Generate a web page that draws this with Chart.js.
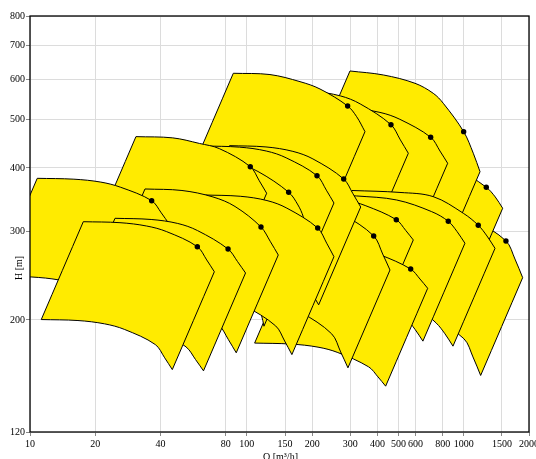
<!DOCTYPE html>
<html>
<head>
<meta charset="utf-8">
<script src="https://cdn.jsdelivr.net/npm/chart.js@4.4.1/dist/chart.umd.min.js"></script>
<style>
  html, body { margin: 0; padding: 0; background: #ffffff; }
  #wrap { width: 536px; height: 459px; }
</style>
</head>
<body>
<div id="wrap"><canvas id="c" width="536" height="459"></canvas></div>
<script>
// Axis ticks
const qTicks = [10, 20, 40, 80, 100, 150, 200, 300, 400, 500, 600, 800, 1000, 1500, 2000];
const hTicks = [120, 200, 300, 400, 500, 600, 700, 800];

// Operating ranges: [Q m3/h, H m] along the largest and the smallest impeller curve
const pump01Max = [[10.80,381.6],[15.94,380.1],[21.2,375.1],[26.2,366.3],[36.4,344.6],[40.3,326.0],[43.8,309.9]];
const pump01Min = [[6.91,244.2],[10.20,243.3],[13.57,240.1],[16.77,234.4],[23.30,220.5],[25.79,208.6],[28.03,198.3]];
const pump02Max = [[17.61,313.1],[26.0,311.7],[34.5,307.0],[42.7,299.2],[59.1,279.4],[65.3,263.0],[70.8,249.2]];
const pump02Min = [[11.27,200.4],[16.64,199.5],[22.08,196.5],[27.33,191.5],[37.82,178.8],[41.79,168.3],[45.31,159.5]];
const pump03Max = [[24.66,318.0],[36.2,316.3],[48.0,310.6],[59.2,300.7],[81.9,276.4],[90.6,261.0],[98.6,247.8]];
const pump03Min = [[15.78,203.5],[23.17,202.4],[30.72,198.8],[37.89,192.4],[52.42,176.9],[57.98,167.0],[63.10,158.6]];
const pump04Max = [[30.8,461.5],[45.5,458.9],[60.4,447.4],[74.7,436.9],[103.7,402.4],[114.1,377.3],[123.4,356.5]];
const pump04Min = [[19.71,295.4],[29.12,293.7],[38.66,286.3],[47.81,279.6],[66.37,257.5],[73.02,241.5],[78.98,228.2]];
const pump05Max = [[33.9,363.5],[50.2,361.0],[69.8,350.5],[88.2,335.6],[116.2,305.6],[128.5,285.7],[139.6,269.0]];
const pump05Min = [[21.70,232.6],[32.13,231.0],[44.67,224.3],[56.45,214.8],[74.37,195.6],[82.24,182.8],[89.34,172.2]];
const pump06Max = [[46.5,418.8],[68.5,416.1],[91.0,407.4],[112.5,393.7],[155.9,358.1],[172.1,337.9],[182.0,320.4],[187.3,303.8]];
const pump06Min = [[29.76,268.0],[43.84,266.3],[58.24,260.7],[72.0,252.0],[99.78,229.2],[110.1,216.3],[116.5,205.1],[119.9,194.4]];
const pump07Max = [[62.8,442.3],[92.5,439.9],[122.9,432.2],[151.8,419.0],[210.6,386.2],[232.6,361.5],[252.1,341.0]];
const pump07Min = [[40.19,283.1],[59.2,281.5],[78.66,276.6],[97.15,268.2],[134.8,247.2],[148.9,231.4],[161.3,218.2]];
const pump08Max = [[63.2,353.7],[93.2,351.6],[123.8,344.8],[152.9,333.1],[212.1,304.2],[233.4,283.9],[252.1,266.9]];
const pump08Min = [[40.45,226.4],[59.65,225.0],[79.23,220.7],[97.86,213.2],[135.7,194.7],[149.4,181.7],[161.3,170.8]];
const pump09Max = [[83.2,442.9],[122.5,440.3],[163.0,431.5],[201.6,416.9],[279.6,380.4],[308.6,355.6],[334.9,334.8]];
const pump09Min = [[53.25,283.5],[78.4,281.8],[104.3,276.2],[129.0,266.8],[178.9,243.5],[197.5,227.6],[214.3,214.3]];
const pump10Max = [[86.6,616.1],[127.8,612.5],[175.8,593.0],[217.4,573.5],[291.6,530.7],[320.9,505.4],[350.5,472.1]];
const pump10Min = [[55.42,394.3],[81.8,392.0],[112.5,379.5],[139.1,367.0],[186.6,339.6],[205.4,323.5],[224.3,302.1]];
const pump11Max = [[114.6,345.7],[168.8,343.5],[224.4,336.2],[277.2,323.8],[384.4,293.4],[423.0,270.2],[457.1,251.2]];
const pump11Min = [[73.3,221.2],[108.0,219.8],[143.6,215.2],[177.4,207.2],[246.0,187.8],[270.7,172.9],[292.5,160.8]];
const pump12Max = [[137.7,571.0],[202.9,567.3],[269.7,555.8],[333.1,535.8],[461.9,487.3],[510.4,454.6],[555.3,427.8]];
const pump12Min = [[88.1,365.4],[129.9,363.1],[172.6,355.7],[213.2,342.9],[295.6,311.9],[326.7,290.9],[355.4,273.8]];
const pump13Max = [[145.2,352.1],[213.9,350.5],[284.4,345.7],[351.2,337.1],[488.7,316.0],[540.1,300.9],[585.5,288.1]];
const pump13Min = [[92.9,225.3],[136.9,224.3],[182.0,221.2],[224.8,215.7],[312.8,202.2],[345.7,192.6],[374.7,184.4]];
const pump14Max = [[169.7,281.2],[250.1,280.0],[332.6,276.1],[410.6,269.3],[569.4,252.3],[628.5,241.1],[682.1,231.1]];
const pump14Min = [[108.6,180.0],[160.1,179.2],[212.9,176.7],[262.8,172.4],[364.4,161.5],[402.2,154.3],[436.5,147.9]];
const pump15Max = [[209.9,527.5],[309.3,524.6],[411.1,515.4],[507.7,499.4],[704.0,460.2],[777.2,432.2],[843.3,408.7]];
const pump15Min = [[134.3,337.6],[198.0,335.7],[263.1,329.9],[324.9,319.6],[450.6,294.5],[497.4,276.6],[539.7,261.6]];
const pump16Max = [[253.0,353.7],[320.9,352.1],[490.9,345.7],[711.5,327.8],[848.8,313.7],[930.9,299.5],[1013,283.8]];
const pump16Min = [[161.9,226.4],[205.4,225.3],[314.2,221.2],[455.4,209.8],[543.2,200.8],[595.8,191.7],[648.3,181.6]];
const pump17Max = [[298.9,622.6],[425.7,611.4],[596.0,588.6],[723.7,562.3],[804.9,537.3],[999.5,472.1],[1107,427.8],[1189,393.3]];
const pump17Min = [[191.3,398.5],[272.4,391.3],[381.4,376.7],[463.2,359.9],[515.1,343.9],[639.7,302.1],[708.5,273.8],[761.0,251.7]];
const pump18Max = [[305.3,361.0],[508.3,357.8],[723.7,351.0],[995.4,325.4],[1167,308.1],[1280,293.4],[1394,277.3]];
const pump18Min = [[195.4,231.0],[325.3,229.0],[463.2,224.6],[637.1,208.3],[746.9,197.2],[819.2,187.8],[892.2,177.5]];
const pump19Max = [[378.8,426.4],[558.1,423.9],[741.8,415.4],[916.2,401.3],[1271,366.3],[1398,350.5],[1512,332.9]];
const pump19Min = [[242.4,272.9],[357.2,271.3],[474.8,265.9],[586.4,256.8],[813.4,234.4],[894.7,224.3],[967.7,213.1]];
const pump20Max = [[466.9,334.8],[687.8,332.7],[914.3,326.1],[1129,314.7],[1566,286.8],[1723,264.1],[1870,242.6]];
const pump20Min = [[298.8,214.3],[440.2,212.9],[585.2,208.7],[722.6,201.4],[1002,183.6],[1103,169.0],[1197,155.3]];

// Best efficiency points
const bepQ = [36.4, 59.1, 81.9, 103.7, 116.2, 155.9, 210.6, 212.1, 279.6, 291.6, 384.4, 461.9, 488.7, 569.4, 704.0, 848.8, 999.5, 1167, 1271, 1566];
const bepH = [344.6, 279.4, 276.4, 402.4, 305.6, 358.1, 386.2, 304.2, 380.4, 530.7, 293.4, 487.3, 316.0, 252.3, 460.2, 313.7, 472.1, 308.1, 366.3, 286.8];

const ranges = [
  [pump01Max, pump01Min], [pump02Max, pump02Min], [pump03Max, pump03Min], [pump04Max, pump04Min],
  [pump05Max, pump05Min], [pump06Max, pump06Min], [pump07Max, pump07Min], [pump08Max, pump08Min],
  [pump09Max, pump09Min], [pump10Max, pump10Min], [pump11Max, pump11Min], [pump12Max, pump12Min],
  [pump13Max, pump13Min], [pump14Max, pump14Min], [pump15Max, pump15Min], [pump16Max, pump16Min],
  [pump17Max, pump17Min], [pump18Max, pump18Min], [pump19Max, pump19Min], [pump20Max, pump20Min]
];

// Stacking: the first entry lies on top of everything else
const stacking = [2, 3, 1, 5, 8, 4, 6, 7, 9, 10, 11, 14, 13, 16, 18, 12, 15, 17, 19, 20];

const FILL = '#ffeb00';
const FONT = { family: 'Liberation Serif', size: 10 };

const datasets = [];
ranges.forEach(([maxCurve, minCurve], i) => {
  const rank = stacking.indexOf(i + 1);
  const last = maxCurve.length - 1;
  // Closed outline: largest impeller curve, right edge, smallest impeller curve
  // back to the left, left edge. Corner vertices are doubled so the spline keeps
  // them sharp while the impeller curves stay smooth.
  const outline = [maxCurve[0], ...maxCurve, maxCurve[last],
                   minCurve[last], ...minCurve.slice().reverse(), minCurve[0], maxCurve[0]]
    .map(([q, h]) => ({ x: q, y: h }));
  datasets.push({
    data: outline,
    fill: 'shape',
    backgroundColor: FILL,
    borderColor: '#000000',
    borderWidth: 1,
    pointRadius: 0,
    tension: 0.35,
    capBezierPoints: false,
    order: 2 * rank + 1
  });
  datasets.push({
    data: [{ x: bepQ[i], y: bepH[i] }],
    showLine: false,
    pointRadius: 2.7,
    pointBackgroundColor: '#000000',
    pointBorderWidth: 0,
    order: 2 * rank
  });
});

const frameAndTitles = {
  id: 'frameAndTitles',
  afterDraw(chart) {
    const { ctx, chartArea: a } = chart;
    ctx.save();
    ctx.strokeStyle = '#000000';
    ctx.lineWidth = 1.3;
    ctx.strokeRect(a.left, a.top, a.right - a.left, a.bottom - a.top);
    ctx.fillStyle = '#000000';
    ctx.font = '10px "Liberation Serif"';
    ctx.textAlign = 'center';
    ctx.textBaseline = 'top';
    ctx.fillText('Q [m\u00b3/h]', (a.left + a.right) / 2 + 1, 452);
    ctx.translate(19, 268);
    ctx.rotate(-Math.PI / 2);
    ctx.textBaseline = 'middle';
    ctx.fillText('H [m]', 0, 0);
    ctx.restore();
  }
};

new Chart(document.getElementById('c'), {
  type: 'line',
  data: { datasets },
  options: {
    responsive: false,
    animation: false,
    events: [],
    layout: { padding: { top: 16, right: 7, left: 0, bottom: 0 } },
    plugins: { legend: { display: false }, tooltip: { enabled: false } },
    scales: {
      x: {
        type: 'logarithmic',
        min: 10, max: 2000,
        afterBuildTicks: (s) => { s.ticks = qTicks.map(v => ({ value: v })); },
        afterFit: (s) => { s.height = 27; s.paddingLeft = 0; s.paddingRight = 0; },
        ticks: { callback: (v) => String(v), font: FONT, color: '#000', maxRotation: 0, autoSkip: false, padding: 2 },
        grid: { color: '#dcdcdc', lineWidth: 1, tickLength: 4, tickColor: '#888' },
        border: { display: false }
      },
      y: {
        type: 'logarithmic',
        min: 120, max: 800,
        afterBuildTicks: (s) => { s.ticks = hTicks.map(v => ({ value: v })); },
        afterFit: (s) => { s.width = 30; s.paddingTop = 0; s.paddingBottom = 0; },
        ticks: { callback: (v) => String(v), font: FONT, color: '#000', autoSkip: false, padding: 1 },
        grid: { color: '#dcdcdc', lineWidth: 1, tickLength: 4, tickColor: '#888' },
        border: { display: false }
      }
    }
  },
  plugins: [frameAndTitles]
});
</script>
</body>
</html>
